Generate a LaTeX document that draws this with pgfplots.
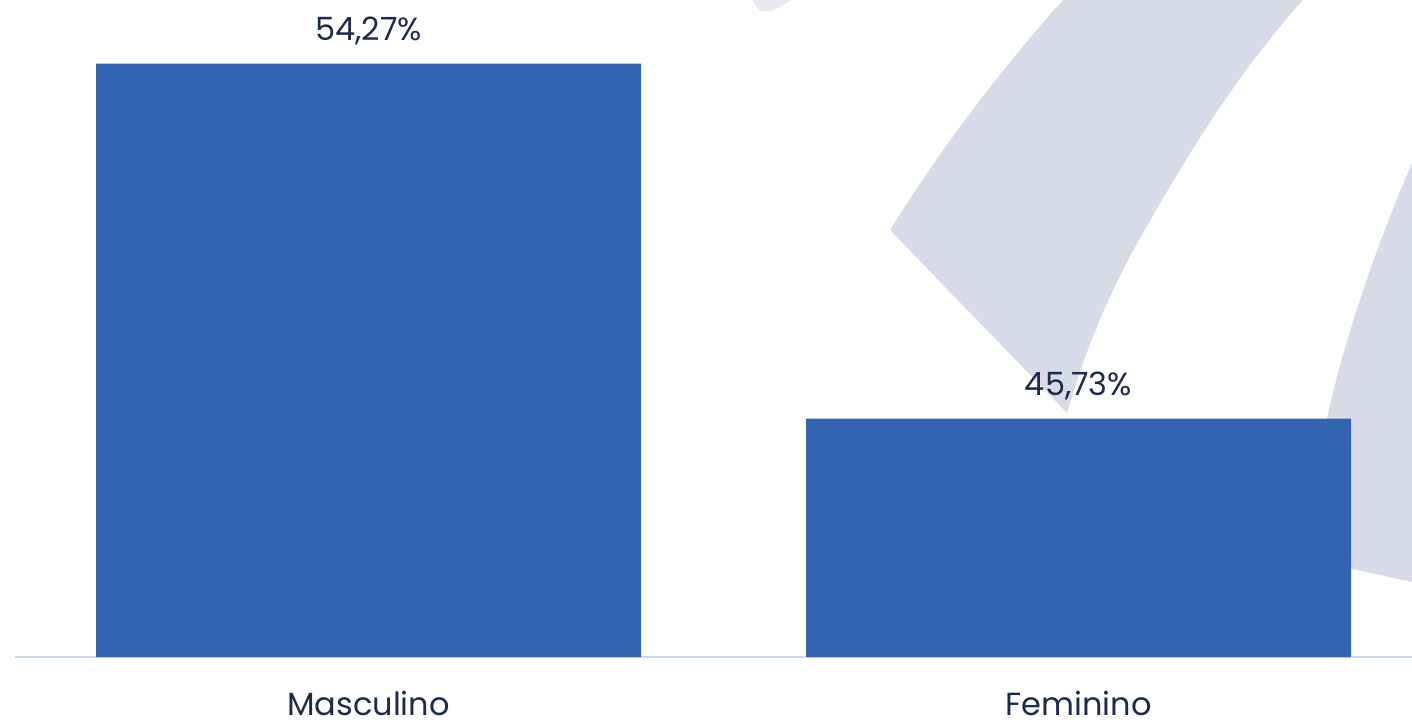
\documentclass[border=0pt]{standalone}
\usepackage{fontspec}
\setmainfont{Poppins}
\usepackage{pgfplots}
\pgfplotsset{compat=1.18}

\definecolor{barblue}{HTML}{3364B0}
\definecolor{txtnavy}{HTML}{1B2B4F}
\definecolor{wmark}{HTML}{D7DAE7}
\definecolor{baseln}{HTML}{CCD8EE}

\begin{document}
\begin{tikzpicture}
\useasboundingbox (0,0) rectangle (706pt,362pt);
% background watermark, in image pixels (1px = 0.5pt, y downwards)
\begin{scope}[shift={(0,362pt)}, x=0.5pt, y=-0.5pt]
  \fill[wmark] (890,230) -- (1067,413)
    .. controls (1085,350) and (1110,290) .. (1143,233)
    .. controls (1190,150) and (1240,70) .. (1303,0)
    -- (1063,0)
    .. controls (1000,70) and (940,150) .. (890,230) -- cycle;
  \fill[wmark] (1412,163)
    .. controls (1370,260) and (1330,380) .. (1318,470)
    -- (1312,560) -- (1412,582) -- cycle;
  \fill[wmark, opacity=0.6] (752,0) -- (792,0) -- (772,11) -- (760,11) -- cycle;
\end{scope}
\begin{axis}[
    at={(7.5pt,33.5pt)}, anchor=south west,
    scale only axis, width=698.5pt, height=328.5pt,
    ybar, bar width=0.7676,
    xmin=-0.4979, xmax=1.4697,
    ymin=40, ymax=55.8,
    axis x line*=bottom, axis y line=none,
    x axis line style={draw=baseln, line width=1pt},
    xtick={0,1}, xticklabels={Masculino, Feminino},
    major tick length=0pt,
    xticklabel style={font=\fontsize{16}{19}\selectfont, text=txtnavy, anchor=base, inner sep=0pt, yshift=-29pt},
    nodes near coords={\pgfmathprintnumber[assume math mode=true,use comma,fixed,fixed zerofill,precision=2]{\pgfplotspointmeta}\%},
    nodes near coords style={font=\fontsize{16}{19}\selectfont, text=txtnavy, anchor=base, yshift=11.75pt},
]
\addplot[fill=barblue, draw=none] coordinates {(0,54.27) (1,45.73)};
\end{axis}
\end{tikzpicture}
\end{document}
